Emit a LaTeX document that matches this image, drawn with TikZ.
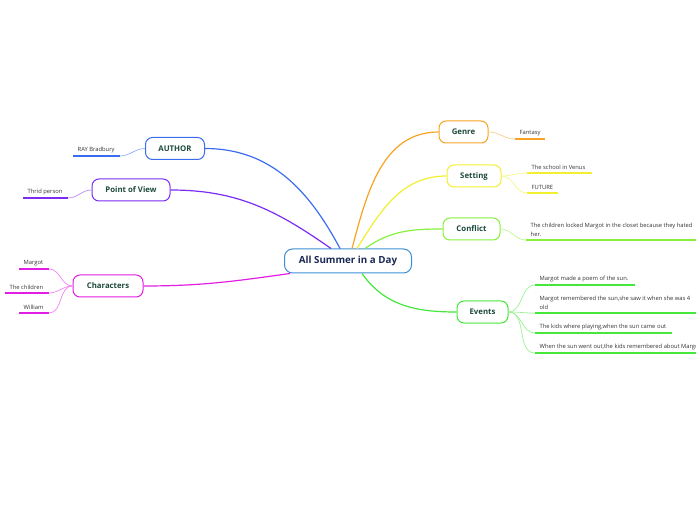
\documentclass[tikz,border=0pt]{standalone}
\usepackage{fontspec}
\setmainfont{Open Sans}
\usepackage{tikz}
\usepackage{xcolor}

\definecolor{cRoot}{HTML}{3E8ED6}
\definecolor{cAuthor}{HTML}{3A6DF0}
\definecolor{cPov}{HTML}{7B2CF2}
\definecolor{cChar}{HTML}{E31EE3}
\definecolor{cGenre}{HTML}{F6A324}
\definecolor{cSet}{HTML}{F0F030}
\definecolor{cConf}{HTML}{86F03A}
\definecolor{cEvent}{HTML}{45E83A}
\definecolor{rootTxt}{HTML}{1B2A55}
\definecolor{topicTxt}{HTML}{1D4A3A}
\definecolor{leafTxt}{HTML}{333333}

\begin{document}
\begin{tikzpicture}[x=1pt, y=1pt,
  topic/.style={draw, line width=1pt, rounded corners=7pt, fill=white, text=topicTxt,
    font=\fontsize{7.8}{8}\selectfont\bfseries, minimum height=22pt, inner sep=0pt},
  leaf/.style={anchor=south west, inner xsep=4.5pt, inner ysep=3pt, align=left, text=leafTxt,
    font=\fontsize{5.8}{9}\selectfont},
  link/.style={line width=1.2pt},
  twig/.style={line width=0.7pt},
  uline/.style={line width=1.6pt}]
  \useasboundingbox (0,0) rectangle (696,520);
  \clip (0,0) rectangle (696,520);

  \node[draw=cRoot, line width=1pt, rounded corners=8pt, fill=white, text=rootTxt,
    font=\fontsize{9.8}{10}\selectfont\bfseries, minimum width=127pt, minimum height=24pt,
    inner sep=0pt] (root) at (348,259) {All Summer in a Day};

  \foreach \n/\x/\y/\w/\c/\t in {author/175/371.5/59/cAuthor/AUTHOR, pov/131/330/78/cPov/Point of View,
      chars/108/234/70/cChar/Characters, genre/463.5/388/49/cGenre/Genre, setting/474/344/54/cSet/Setting,
      conflict/471.5/291/57/cConf/Conflict, events/482.5/208/51/cEvent/Events}
    \node[topic, draw=\c, minimum width=\w pt] (\n) at (\x,\y) {\t};

  \draw[link, cAuthor] (author.east) to[out=0,in=118] ([xshift=-8pt]root.north);
  \draw[link, cPov] (pov.east) to[out=0,in=145] ([xshift=-17pt]root.north);
  \draw[link, cChar] (chars.east) to[out=0,in=188] ([xshift=6pt]root.south west);
  \draw[link, cGenre] (genre.west) to[out=180,in=75] ([xshift=4pt]root.north);
  \draw[link, cSet] (setting.west) to[out=180,in=58] ([xshift=9pt]root.north);
  \draw[link, cConf] (conflict.west) to[out=180,in=35] ([xshift=17pt]root.north);
  \draw[link, cEvent] (events.west) to[out=180,in=-55] ([xshift=14pt]root.south);

  \foreach \n/\x/\y/\w/\c/\p/\t in {ray/73/364/47/cAuthor/author/{RAY Bradbury},
      thrid/23/322/45/cPov/pov/{Thrid person}, margot/19/251/30/cChar/chars/{Margot},
      children/5/227/44/cChar/chars/{The children}, william/19/207/30/cChar/chars/{William}}
  {
    \node[leaf] (\n) at (\x,\y) {\t};
    \draw[uline, \c] (\n.south west) -- ++(\w,0) coordinate (\n-e);
    \draw[twig, \c!55] (\p.west) to[out=180,in=0] (\n-e);
  }

  \foreach \n/\x/\y/\w/\c/\p/\t in {fantasy/515/381/30/cGenre/genre/{Fantasy},
      venus/527/347/65/cSet/setting/{The school in Venus}, future/527/327/31/cSet/setting/{FUTURE},
      locked/526/280/200/cConf/conflict/{The children locked Margot in the closet because they hated\\her.},
      poem/535/235/100/cEvent/events/{Margot made a poem of the sun.},
      remem/535/207/200/cEvent/events/{Margot remembered the sun,she saw it when she was 4\\old},
      kids/535/187/137/cEvent/events/{The kids where playing,when the sun came out},
      sunout/535/167/200/cEvent/events/{When the sun went out,the kids remembered about Margot}}
  {
    \node[leaf] (\n) at (\x,\y) {\t};
    \draw[uline, \c] (\n.south west) -- ++(\w,0);
    \draw[twig, \c!55] (\p.east) to[out=0,in=180] (\n.south west);
  }
\end{tikzpicture}
\end{document}
